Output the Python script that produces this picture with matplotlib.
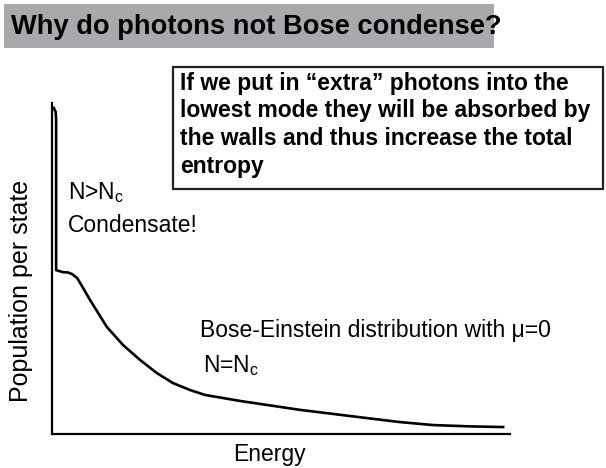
import matplotlib.pyplot as plt
from matplotlib.patches import Rectangle

# Curve (arbitrary units, 0-10 on both axes)
energy = [0.04, 0.08, 0.09, 0.09, 0.24, 0.35, 0.44, 0.55, 0.68, 0.83, 1.20, 1.55,
          1.92, 2.29, 2.64, 3.01, 3.34, 4.10, 5.41, 6.88, 7.60, 8.32, 9.13, 9.85]
population = [9.85, 9.73, 9.49, 4.95, 4.89, 4.88, 4.83, 4.71, 4.41, 4.05, 3.23, 2.69,
              2.24, 1.84, 1.54, 1.33, 1.18, 1.00, 0.73, 0.48, 0.36, 0.27, 0.23, 0.21]

title = "Why do photons not Bose condense?"
note = ("If we put in \u201cextra\u201d photons into the\n"
        "lowest mode they will be absorbed by\n"
        "the walls and thus increase the total\n"
        "entropy")

plt.rcParams['font.family'] = ['Liberation Sans', 'DejaVu Sans']
plt.rcParams['mathtext.fontset'] = 'custom'
plt.rcParams['mathtext.rm'] = 'Liberation Sans'

fig = plt.figure(figsize=(6.06, 4.68), dpi=100)
W, H = 606, 468

def fx(px):
    return px / W

def fy(py):
    return 1 - py / H

# title bar
fig.patches.append(Rectangle((fx(4), fy(48)), fx(490), 44 / H, transform=fig.transFigure,
                             facecolor='#a7a9ac', edgecolor='none'))
fig.text(fx(11), fy(27), title, fontsize=19.6, fontweight='bold',
         va='center', ha='left')

# note box
fig.patches.append(Rectangle((fx(173), fy(189)), fx(430), 122 / H, transform=fig.transFigure,
                             facecolor='white', edgecolor='#222222', linewidth=1.6))
fig.text(fx(180), fy(72), note, fontsize=16.5, fontweight='bold', va='top', ha='left',
         linespacing=1.25)

ax = fig.add_axes([fx(52), fy(434), fx(510 - 52), (434 - 103) / H])
ax.plot(energy, population, color='black', linewidth=1.9)
ax.set_xlim(0, 10)
ax.set_ylim(0, 10)
for s in ['top', 'right']:
    ax.spines[s].set_visible(False)
for s in ['left', 'bottom']:
    ax.spines[s].set_linewidth(1.6)
ax.set_xticks([])
ax.set_yticks([])
ax.patch.set_alpha(0)

fig.text(fx(68), fy(193), r"N>N$_\mathrm{c}$", fontsize=16.5, va='center', ha='left')
fig.text(fx(68), fy(225), "Condensate!", fontsize=16.5, va='center', ha='left')
fig.text(fx(200), fy(330), "Bose-Einstein distribution with \u03bc=0", fontsize=16.5,
         va='center', ha='left')
fig.text(fx(203), fy(366), r"N=N$_\mathrm{c}$", fontsize=16.5, va='center', ha='left')
fig.text(fx(269), fy(455), "Energy", fontsize=16.5, va='center', ha='center')
fig.text(fx(21), fy(291), "Population per state", fontsize=18, rotation=90,
         va='center', ha='center')

fig.savefig('out.png', dpi=100)
